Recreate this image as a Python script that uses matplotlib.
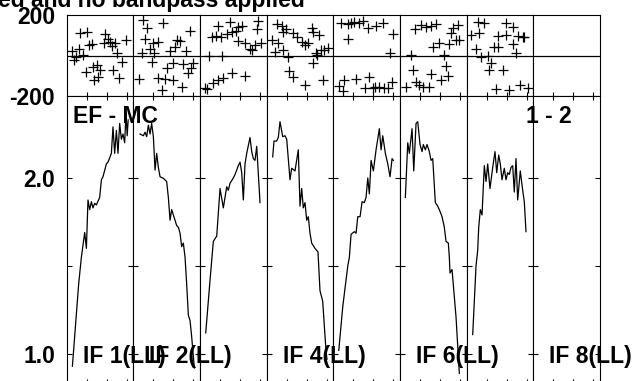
import numpy as np
import matplotlib
matplotlib.use('Agg')
import matplotlib.pyplot as plt

# Fonts: Arial-like bold everywhere
plt.rcParams['font.family'] = ['Liberation Sans', 'DejaVu Sans']
plt.rcParams['font.weight'] = 'bold'

# Data: channel and value pairs for each IF panel
amp_chan = [
    [5.7, 12, 14.7, 18, 19.7, 21.3, 23, 24.7, 26.3, 28, 29.7, 33, 34.7, 36.3, 39.7, 41.3,
     44.7, 46.3, 48, 49.7, 51.3, 53, 54.7, 56.3, 58, 59.3, 60.5, 61.5],
    [6.7, 10, 11.7, 13.3, 15, 16.7, 18.3, 20, 21.7, 23.3, 25, 26.7, 30, 33.3, 35, 36.7,
     38.3, 40, 43.3, 45, 46.7, 48.3, 50, 51.7, 53.3, 55, 56.7, 58.3, 61],
    [5.7, 10, 13.3, 16.7, 20, 23.3, 26.7, 28.3, 30, 33.3, 35, 36.7, 38.3, 40, 41.7, 43.3,
     45, 46.7, 50, 51.7, 53.3, 55, 56.7, 60],
    [6, 7.3, 10, 11.6, 13.3, 16, 18.3, 20, 23.3, 25, 28.3, 31.6, 33.3, 35, 36.6, 38.3,
     40, 41.6, 43.3, 45, 48.3, 51.3, 53.3, 56, 59.3, 60.3],
    [5.4, 9.4, 14.4, 16, 17.7, 21, 22.7, 24.4, 26.7, 28.7, 31, 32.7, 34.4, 36, 37.7, 40,
     42.7, 46, 47.7, 49.4, 52, 54.4, 56.7, 58.7, 60],
    [5.3, 7.7, 9.3, 12, 13.7, 16, 17.7, 20, 22, 23.3, 25.3, 27, 29.3, 31, 32.7, 35.3,
     37.7, 40, 42, 44.3, 46, 48.3, 49.3, 50, 52, 56, 59.3],
    [6, 9.3, 11, 12, 13.6, 15.3, 17.6, 19.3, 21, 23.3, 26, 28.3, 30, 32, 33.6, 35.3,
     37.6, 39.3, 41, 42.6, 44.3, 46, 47.6, 49.3, 51, 53.6, 56, 57.6, 59.3],
    [],
]
amp_vals = [
    [0.93, 1.40, 1.55, 1.69, 1.60, 1.875, 1.82, 1.865, 1.83, 1.856, 1.847, 1.89, 1.99, 2.007,
     2.08, 2.09, 2.14, 2.29, 2.14, 2.27, 2.14, 2.31, 2.22, 2.25, 2.20, 2.37, 2.24, 2.33],
    [2.25, 2.24, 2.26, 2.235, 2.30, 2.25, 2.31, 2.235, 2.045, 2.14, 2.06, 2.007, 1.998, 1.98,
     1.89, 1.76, 1.82, 1.79, 1.73, 1.72, 1.686, 1.61, 1.63, 1.55, 1.40, 1.22, 1.19, 1.10, 0.92],
    [1.12, 1.42, 1.64, 1.67, 1.94, 1.83, 1.95, 1.93, 1.97, 2.00, 2.02, 2.045, 2.07, 2.09,
     2.03, 1.875, 2.08, 2.14, 2.23, 2.15, 2.11, 2.10, 2.18, 1.86],
    [2.12, 2.21, 2.21, 2.23, 2.32, 2.235, 2.24, 2.22, 1.99, 2.055, 2.04, 2.16, 1.84, 1.94,
     1.83, 1.86, 1.76, 1.78, 1.686, 1.63, 1.60, 1.58, 1.36, 1.30, 1.02, 0.97],
    [1.02, 1.27, 1.50, 1.55, 1.68, 1.695, 1.686, 1.78, 1.78, 1.865, 1.86, 1.89, 2.00, 1.91,
     2.10, 2.04, 2.16, 2.28, 2.16, 2.24, 2.14, 2.08, 2.007, 2.11, 2.10],
    [1.89, 2.20, 2.14, 2.28, 2.04, 2.31, 2.32, 2.19, 2.15, 2.19, 2.16, 2.19, 2.15, 2.10,
     2.11, 1.86, 1.84, 1.81, 1.78, 1.72, 1.64, 1.63, 1.55, 1.46, 1.48, 1.21, 0.89],
    [1.11, 1.50, 1.59, 1.72, 1.82, 1.79, 2.07, 1.98, 2.08, 1.94, 2.06, 2.15, 2.03, 2.13,
     2.08, 1.99, 2.055, 1.99, 2.03, 2.02, 2.06, 2.07, 1.92, 2.11, 1.875, 2.04, 1.93, 1.865, 1.695],
    [],
]

ph_chan = [
    [13.3, 20.7, 5.7, 12.3, 9.3, 7.7, 16, 22.7, 25, 38.3, 41, 37.3, 43.3, 48.3, 45, 50.7,
     59.3, 55, 19.3, 26.7, 30.7, 33.3, 27.7, 31, 46.7, 52.7],
    [10, 14, 30, 56.7, 11.7, 20, 16.7, 25, 8.3, 20.7, 36.7, 44, 46.7, 41.7, 52.3, 18.3,
     33.3, 39.3, 50, 59.3, 57.3, 55, 6, 25, 31.7, 40, 28.3, 48.3],
    [18.3, 30, 38.3, 42.3, 58.3, 56.7, 11.7, 16, 20.7, 26.7, 31.7, 36, 37.7, 45, 50, 52.3,
     55, 60.7, 9.3, 21.7, 5, 7.3, 13.3, 18.3, 23.3, 31.7, 45],
    [10, 15, 19.3, 16.7, 26.7, 30, 35, 38.3, 41.7, 45, 46.7, 5, 11.7, 8.3, 16.7, 21.7,
     22.7, 26.7, 38.3, 46.7, 50, 52.7, 49.3, 54.3, 57.7, 61, 56],
    [7.7, 14.3, 17.7, 21, 26, 29.3, 34.3, 42.7, 49.3, 60, 14.3, 56.7, 6, 11, 9.3, 22.7,
     36, 32, 39.3, 42, 46, 51, 54.3, 58.7],
    [15, 21, 26, 31, 36, 51, 52.7, 57.7, 56, 59.3, 32.7, 39.3, 49.3, 44.3, 11, 46, 12.7,
     31, 41, 47.7, 6, 16, 19.3, 22.7, 29.3],
    [11, 17.7, 39.3, 46, 4.3, 12.7, 31, 39.3, 51, 56, 57.7, 9.3, 14.3, 21, 27.7, 31, 46,
     49.3, 24.3, 22.7, 36, 29.3, 42.7, 53.3, 61],
    [],
]
ph_vals = [
    [112, 117, 25, 33, -7, -20, 5, 54, 58, 107, 82, 66, 71, 66, 51, 16, 79, -28, -77, -53,
     -44, -69, -119, -105, -69, -110],
    [178, 137, 161, 125, 82, 63, 33, 68, 13, 13, 26, 79, 76, 46, 26, -28, -61, -33, -40,
     -36, -61, -82, -114, -110, -114, -119, -168, -155],
    [148, 169, 145, 148, 175, 132, 96, 99, 96, 109, 120, 125, 76, 66, 33, 30, 54, 63, 0, 0,
     -160, -165, -132, -119, -110, -82, -99],
    [158, 148, 132, 120, 112, 96, 71, 54, 63, 137, 120, 79, 66, 21, 30, -3, -73, -102, -143,
     -36, 5, 104, 13, 30, 30, 38, -119],
    [161, 158, 165, 169, 161, 175, 140, 148, 161, 109, 82, 13, -148, -119, -171, -115, -105,
     -160, -160, -155, -155, -160, -160, -127],
    [132, 153, 145, 148, 158, 112, 137, 153, 79, 79, 46, 63, 59, 5, 5, -49, -69, -89, -119,
     -99, -155, -127, -143, -155, -155],
    [169, 161, 165, 145, 104, 112, 99, 104, 99, 96, 92, 33, -7, 0, 43, 46, 59, 16, -36, -69,
     -69, -165, -168, -143, -160],
    [],
]

if_labels = ['IF 1(LL)', 'IF 2(LL)', '', 'IF 4(LL)', '', 'IF 6(LL)', '', 'IF 8(LL)']
title = 'ed and no bandpass applied'

W, H = 636, 381
FS = 16.5

fig = plt.figure(figsize=(W / 100, H / 100), dpi=100)


def fx(px):
    return px / W


def fy(py):
    return 1 - py / H


x0, pw = 66.7, 66.67
ph_top, split, amp_bot = 15.5, 96.5, 383.0

for i in range(8):
    # phase panel
    axp = fig.add_axes([fx(x0 + i * pw), fy(split), pw / W, (split - ph_top) / H])
    axp.set_xlim(0, 66.7)
    axp.set_ylim(-200, 200)
    axp.axhline(0, color='black', linewidth=0.9)
    if len(ph_chan[i]):
        axp.plot(ph_chan[i], ph_vals[i], '+', color='black', markersize=6.5, markeredgewidth=0.9)
    axp.set_xticks([20, 40, 60])
    axp.tick_params(axis='x', direction='in', length=3, width=0.8, labelbottom=False)
    axp.set_yticks([-200, 200])
    axp.tick_params(axis='y', length=0, pad=8.5, labelsize=FS)
    if i == 0:
        axp.set_yticklabels(['-200', '200'])
    else:
        axp.set_yticklabels([])

    # amplitude panel
    axa = fig.add_axes([fx(x0 + i * pw), fy(amp_bot), pw / W, (amp_bot - split) / H])
    axa.set_xlim(0, 66.7)
    axa.set_ylim(0.835, 2.463)
    if len(amp_chan[i]):
        axa.plot(amp_chan[i], amp_vals[i], color='black', linewidth=0.9)
    axa.set_xticks([20, 40, 60])
    axa.tick_params(axis='x', direction='in', length=3, width=0.8, top=True,
                    labelbottom=False)
    axa.set_yticks([1.0, 2.0])
    axa.set_yticks([1.5], minor=True)
    axa.tick_params(axis='y', which='both', direction='in', length=3.5, width=0.8,
                    left=True, right=True, pad=8.5, labelsize=FS)
    if i == 0:
        axa.set_yticklabels(['1.0', '2.0'])
    else:
        axa.set_yticklabels([])

    for ax in (axp, axa):
        for s in ax.spines.values():
            s.set_linewidth(0.8)

    if if_labels[i]:
        fig.text(fx(x0 + i * pw + 16), fy(363), if_labels[i], ha='left', va='baseline',
                 fontsize=FS, fontweight='bold')

fig.text(fx(73), fy(123), 'EF - MC', ha='left', va='baseline', fontsize=FS, fontweight='bold')
fig.text(fx(572), fy(123), '1 - 2', ha='right', va='baseline', fontsize=FS, fontweight='bold')
fig.text(fx(305), fy(7), title, ha='right', va='baseline', fontsize=FS, fontweight='bold')

fig.savefig('out.png', dpi=100)
